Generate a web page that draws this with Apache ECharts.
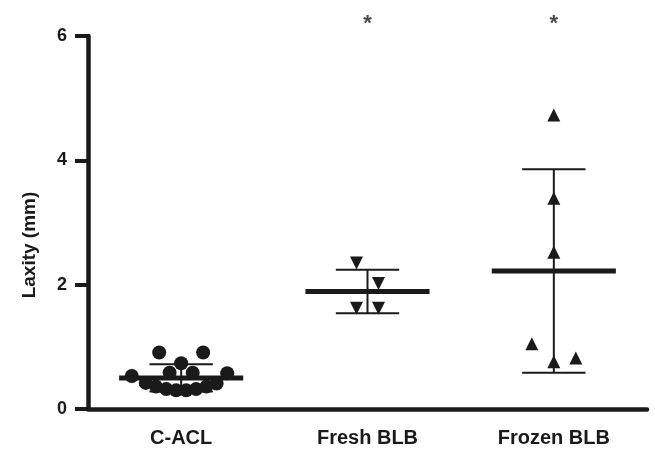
<!DOCTYPE html>
<html>
<head>
<meta charset="utf-8">
<script src="https://cdn.jsdelivr.net/npm/echarts@6/dist/echarts.min.js"></script>
<style>
  html, body { margin: 0; padding: 0; background: #fff; }
  #chart { width: 655px; height: 453px; }
</style>
</head>
<body>
<div id="chart"></div>
<script>
const categories = ['C-ACL', 'Fresh BLB', 'Frozen BLB'];
const yTicks = { min: 0, max: 6, interval: 2 };

// individual specimens (jitter = horizontal spread of the column scatter)
const cAclJitter = [-0.118, 0.118, 0, -0.062, 0.062, -0.265, 0.247, -0.19, -0.135, -0.08, -0.027, 0.027, 0.08, 0.135, 0.19];
const cAclValues = [0.91, 0.91, 0.735, 0.585, 0.585, 0.53, 0.575, 0.42, 0.36, 0.32, 0.30, 0.30, 0.32, 0.36, 0.41];
const freshJitter = [-0.059, 0.059, -0.059, 0.059];
const freshValues = [2.35, 2.02, 1.62, 1.62];
const frozenJitter = [0, 0, 0, -0.118, 0, 0.118];
const frozenValues = [4.73, 3.39, 2.52, 1.05, 0.76, 0.82];

// mean and SD per group
const means = [0.50, 1.89, 2.22];
const sds = [0.22, 0.35, 1.635];

// significance markers
const starGroups = [1, 2];
const starLevel = 6.2;

const ink = '#1a1a1a';
const font = "'Liberation Sans', Arial, Helvetica, sans-serif";

const toPoints = (group, jitter, values) => values.map((v, i) => [group + jitter[i], v]);

const chart = echarts.init(document.getElementById('chart'));

chart.setOption({
  animation: false,
  backgroundColor: '#fff',
  grid: { left: 88, right: 8, top: 36, bottom: 44, containLabel: false },
  xAxis: [
    {
      type: 'category',
      data: categories,
      boundaryGap: true,
      axisLine: { onZero: false, lineStyle: { color: ink, width: 4.5 } },
      axisTick: { alignWithLabel: true, length: 13, lineStyle: { color: ink, width: 4 } },
      axisLabel: { color: ink, fontSize: 20, fontWeight: 'bold', fontFamily: font, margin: 19 },
      splitLine: { show: false },
    },
    {
      type: 'value',
      min: -0.5,
      max: 2.5,
      show: false,
    },
  ],
  yAxis: {
    type: 'value',
    min: yTicks.min,
    max: yTicks.max,
    interval: yTicks.interval,
    axisLine: { show: true, onZero: false, lineStyle: { color: ink, width: 4.5 } },
    axisTick: { show: true, length: 13, lineStyle: { color: ink, width: 4 } },
    axisLabel: { color: ink, fontSize: 18, fontWeight: 'bold', fontFamily: font, margin: 21 },
    splitLine: { show: false },
  },
  graphic: [
    {
      type: 'text',
      x: 30,
      y: 245,
      rotation: Math.PI / 2,
      style: {
        text: 'Laxity (mm)',
        fill: ink,
        font: `bold 19px ${font}`,
        textAlign: 'center',
        textVerticalAlign: 'middle',
      },
    },
  ],
  series: [
    {
      type: 'custom',
      xAxisIndex: 0,
      data: means.map((m, i) => [i, m, sds[i]]),
      renderItem: (params, api) => {
        const x = api.value(0);
        const m = api.value(1);
        const sd = api.value(2);
        const c = api.coord([x, m]);
        const hi = api.coord([x, m + sd]);
        const lo = api.coord([x, m - sd]);
        const band = api.size([1, 0])[0];
        const half = band * 0.333;
        const cap = band * 0.17;
        const thin = { stroke: ink, lineWidth: 2 };
        return {
          type: 'group',
          children: [
            { type: 'line', shape: { x1: c[0], y1: hi[1], x2: c[0], y2: lo[1] }, style: thin },
            { type: 'line', shape: { x1: c[0] - cap, y1: hi[1], x2: c[0] + cap, y2: hi[1] }, style: thin },
            { type: 'line', shape: { x1: c[0] - cap, y1: lo[1], x2: c[0] + cap, y2: lo[1] }, style: thin },
            { type: 'line', shape: { x1: c[0] - half, y1: c[1], x2: c[0] + half, y2: c[1] }, style: { stroke: ink, lineWidth: 5 } },
          ],
        };
      },
    },
    {
      name: 'C-ACL',
      type: 'scatter',
      xAxisIndex: 1,
      symbol: 'circle',
      symbolSize: 14,
      itemStyle: { color: ink, opacity: 1 },
      data: toPoints(0, cAclJitter, cAclValues),
    },
    {
      name: 'Fresh BLB',
      type: 'scatter',
      xAxisIndex: 1,
      symbol: 'triangle',
      symbolRotate: 180,
      symbolSize: 13,
      itemStyle: { color: ink, opacity: 1 },
      data: toPoints(1, freshJitter, freshValues),
    },
    {
      name: 'Frozen BLB',
      type: 'scatter',
      xAxisIndex: 1,
      symbol: 'triangle',
      symbolSize: 13,
      itemStyle: { color: ink, opacity: 1 },
      data: toPoints(2, frozenJitter, frozenValues),
    },
    {
      type: 'scatter',
      xAxisIndex: 0,
      clip: false,
      symbolSize: 0,
      silent: true,
      label: {
        show: true,
        position: 'inside',
        formatter: '*',
        color: ink,
        fontSize: 22,
        fontWeight: 'bold',
        fontFamily: font,
      },
      data: starGroups.map((g) => [g, starLevel]),
    },
  ],
});
</script>
</body>
</html>
